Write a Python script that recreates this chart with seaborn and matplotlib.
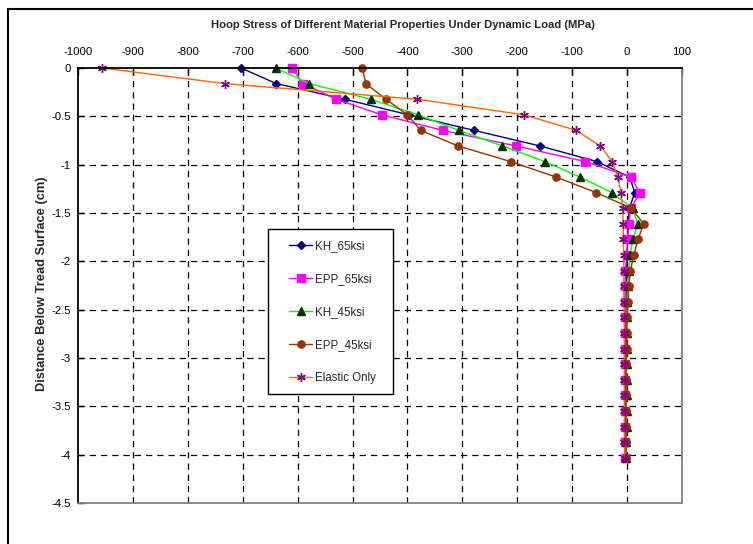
import matplotlib
matplotlib.use("Agg")
import matplotlib.pyplot as plt
from matplotlib.patches import Rectangle
import seaborn as sns

# ---- data ----
depth = [0, -0.161, -0.323, -0.484, -0.645, -0.806, -0.968, -1.129, -1.29, -1.452,
         -1.613, -1.774, -1.935, -2.097, -2.258, -2.419, -2.581, -2.742, -2.903,
         -3.064, -3.226, -3.387, -3.548, -3.71, -3.871, -4.032]

kh_65 = [-703, -639, -514, -398, -279, -159, -55, 5, 14, 4, 2, 1, 0,
         -1, -1, -2, -2, -2, -2, -2, -2, -2, -2, -2, -2, -2]
epp_65 = [-611, -590, -530, -447, -336, -203, -76, 7, 23, 7, 3, 1, -1,
          -3, -4, -4, -4, -4, -4, -4, -4, -4, -4, -4, -4, -4]
kh_45 = [-640, -579, -467, -381, -307, -227, -150, -85, -28, 10, 19, 11, 5,
         3, 1, 0, 0, -1, -1, -1, -1, -1, -1, -1, -2, -2]
epp_45 = [-482, -476, -439, -400, -376, -308, -212, -129, -56, 8, 30, 20, 12,
          6, 3, 2, 0, -1, -1, -2, -2, -2, -2, -2, -2, -2]
elastic = [-956, -733, -382, -188, -93, -49, -27, -17, -11, -8, -7, -7, -6,
           -6, -6, -6, -5, -5, -5, -5, -5, -5, -5, -5, -5, -4]

series_names = ["KH_65ksi", "EPP_65ksi", "KH_45ksi", "EPP_45ksi", "Elastic Only"]
series_values = [kh_65, epp_65, kh_45, epp_45, elastic]

x_ticks = [-1000, -900, -800, -700, -600, -500, -400, -300, -200, -100, 0, 100]
y_ticks = [0, -0.5, -1, -1.5, -2, -2.5, -3, -3.5, -4, -4.5]
y_tick_labels = ["0", "-0.5", "-1", "-1.5", "-2", "-2.5", "-3", "-3.5", "-4", "-4.5"]

title = "Hoop Stress of Different Material Properties Under Dynamic Load (MPa)"
ylabel = "Distance Below Tread Surface (cm)"

# ---- styling ----
sns.set_theme(style="white")
plt.rcParams["font.family"] = ["Liberation Sans", "DejaVu Sans"]

line_colors = ["#000080", "#FF00FF", "#00FF00", "#993300", "#FF6600"]
marker_colors = ["#000080", "#FF00FF", "#003300", "#993300", "#800080"]
markers = ["D", "s", "^", "o", (6, 2, 0)]
marker_sizes = [4.3, 5.2, 5.2, 5.2, 6.3]

W, H = 753, 544
fig = plt.figure(figsize=(W / 100, H / 100), dpi=100)
fig.patch.set_facecolor("white")
ax = fig.add_axes([78 / W, 41 / H, 604 / W, 435 / H])
ax.set_facecolor("white")

# grid (dashed, black)
for xv in x_ticks[1:-1]:
    ax.axvline(xv, color="black", lw=0.9, ls=(0, (5, 4)), zorder=1)
for yv in y_ticks[1:-1]:
    ax.axhline(yv, color="black", lw=0.9, ls=(0, (5, 4)), zorder=1)

for name, vals, lc, mc, mk, ms in zip(series_names, series_values, line_colors,
                                      marker_colors, markers, marker_sizes):
    sns.lineplot(x=vals, y=depth, sort=False, estimator=None, ax=ax,
                 color=lc, lw=1.0, marker=mk, markersize=ms,
                 markerfacecolor=mc, markeredgecolor=mc, markeredgewidth=1.0,
                 label=name, legend=False, zorder=3, clip_on=False)

ax.set_xlim(-1000, 100)
ax.set_ylim(-4.5, 0)
ax.xaxis.tick_top()
ax.set_xticks(x_ticks)
ax.set_xticklabels([str(v) for v in x_ticks])
ax.set_yticks(y_ticks)
ax.set_yticklabels(y_tick_labels)
ax.tick_params(axis="x", which="both", top=True, bottom=False, direction="in",
               length=5, width=1, color="black", labelsize=8.2, pad=8, labelcolor="black")
ax.tick_params(axis="y", which="both", left=True, direction="in", length=4,
               width=1, color="black", labelsize=8.2, pad=5, labelcolor="black")
ax.set_xlabel("")
ax.set_ylabel("")

for side in ["top", "left"]:
    ax.spines[side].set_color("black")
    ax.spines[side].set_linewidth(1.3)
for side in ["bottom", "right"]:
    ax.spines[side].set_color("#808080")
    ax.spines[side].set_linewidth(1.3)
for s in ax.spines.values():
    s.set_zorder(4)

# legend with manual frame
ax.add_patch(Rectangle((0.3146, 0.2506), 0.2069, 0.3794, transform=ax.transAxes,
                       facecolor="white", edgecolor="black", lw=1.0, zorder=5))
handles = ax.get_lines()[-5:]
leg = ax.legend(handles, series_names, loc="center", bbox_to_anchor=(0.421, 0.4393),
                frameon=False, fontsize=8.3, labelspacing=1.82, handlelength=2.0,
                handletextpad=0.2, borderpad=0.0, numpoints=1)
leg.set_zorder(6)

fig.text(403 / W, 1 - 25 / H, title, ha="center", va="center",
         fontsize=8.1, fontweight="bold")
fig.text(42 / W, 1 - 283.5 / H, ylabel, ha="center", va="center",
         rotation=90, fontsize=9.3, fontweight="bold")

# outer chart border
fig.patches.append(Rectangle((8 / W, -0.2), 1.2, 1 - 9 / H + 0.2,
                             transform=fig.transFigure, fill=False,
                             edgecolor="black", lw=1.5, zorder=0))

fig.savefig("out.png", dpi=100, facecolor="white")
